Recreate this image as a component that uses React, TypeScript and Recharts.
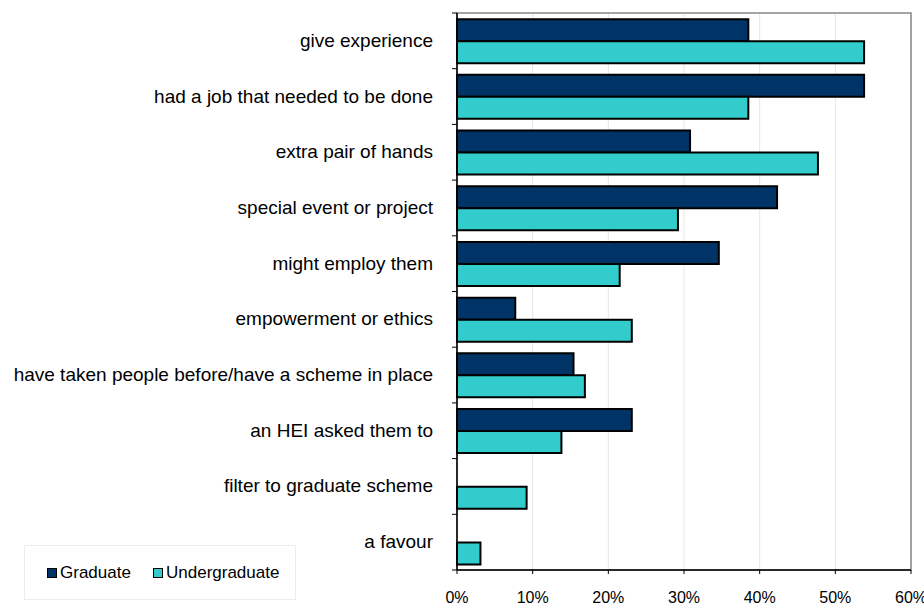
import React from 'react'
import {
  BarChart,
  Bar,
  XAxis,
  YAxis,
  CartesianGrid,
  ReferenceArea,
} from 'recharts'

const categories = [
  'give experience',
  'had a job that needed to be done',
  'extra pair of hands',
  'special event or project',
  'might employ them',
  'empowerment or ethics',
  'have taken people before/have a scheme in place',
  'an HEI asked them to',
  'filter to graduate scheme',
  'a favour',
]
const graduate = [38.5, 53.8, 30.8, 42.3, 34.6, 7.7, 15.4, 23.1, 0, 0]
const undergraduate = [53.8, 38.5, 47.7, 29.2, 21.5, 23.1, 16.9, 13.8, 9.2, 3.1]
const xTicks = [0, 10, 20, 30, 40, 50, 60]

const data = categories.map((name, i) => ({
  name,
  Graduate: graduate[i],
  Undergraduate: undergraduate[i],
}))

const GRAD = '#003366'
const UNDER = '#33CCCC'
const FONT = '"Liberation Sans", Arial, sans-serif'

const W = 924
const H = 608
const M = { top: 13, right: 13, bottom: 0, left: 0 }
const Y_W = 457
const X_H = 38
const AXIS_X = M.left + Y_W
const band = (H - M.top - M.bottom - X_H) / categories.length

function CategoryTick(props: any) {
  const { y, payload } = props
  return (
    <g>
      <line x1={AXIS_X - 5} x2={AXIS_X} y1={y - band / 2} y2={y - band / 2} stroke="#000" />
      {payload.index === categories.length - 1 && (
        <line x1={AXIS_X - 5} x2={AXIS_X} y1={y + band / 2} y2={y + band / 2} stroke="#000" />
      )}
      <text
        x={AXIS_X - 24}
        y={y}
        dy={6}
        textAnchor="end"
        fontSize={19}
        fontFamily={FONT}
        fill="#000"
      >
        {payload.value}
      </text>
    </g>
  )
}

function LegendBox() {
  const items = [
    { label: 'Graduate', color: GRAD, x: 22 },
    { label: 'Undergraduate', color: UNDER, x: 128 },
  ]
  return (
    <div
      style={{
        position: 'absolute',
        left: 24,
        top: 545,
        width: 272,
        height: 55,
        border: '1px solid #ececec',
        boxSizing: 'border-box',
        fontFamily: FONT,
        fontSize: 17,
        color: '#000',
      }}
    >
      {items.map((it) => (
        <div
          key={it.label}
          style={{ position: 'absolute', left: it.x, top: 17, display: 'flex', alignItems: 'center', lineHeight: '20px' }}
        >
          <span
            style={{
              display: 'inline-block',
              width: 8,
              height: 8,
              background: it.color,
              border: '1.5px solid #000',
              marginRight: 3,
            }}
          />
          {it.label}
        </div>
      ))}
    </div>
  )
}

export default function App() {
  return (
    <div style={{ position: 'absolute', left: 0, top: 0, width: W, height: H, background: '#fff' }}>
      <BarChart
        width={W}
        height={H}
        data={data}
        layout="vertical"
        margin={M}
        barCategoryGap="11%"
        barGap={0}
      >
        <CartesianGrid horizontal={false} stroke="#e6e6e6" />
        <ReferenceArea x1={0} x2={60} stroke="#888" strokeWidth={1.5} fill="none" />
        <XAxis
          type="number"
          domain={[0, 60]}
          ticks={xTicks}
          interval={0}
          tickFormatter={(v: number) => `${v}%`}
          axisLine={{ stroke: '#000', strokeWidth: 1.5 }}
          tickLine={{ stroke: '#000' }}
          tickSize={4}
          height={X_H}
          tick={{ fontSize: 16, fontFamily: FONT, fill: '#000', dy: 16 }}
        />
        <YAxis
          type="category"
          dataKey="name"
          width={Y_W}
          interval={0}
          axisLine={{ stroke: '#000', strokeWidth: 1.5 }}
          tickLine={false}
          tick={CategoryTick}
        />
        <Bar dataKey="Graduate" fill={GRAD} stroke="#000" strokeWidth={2} isAnimationActive={false} />
        <Bar dataKey="Undergraduate" fill={UNDER} stroke="#000" strokeWidth={2} isAnimationActive={false} />
      </BarChart>
      <LegendBox />
    </div>
  )
}
